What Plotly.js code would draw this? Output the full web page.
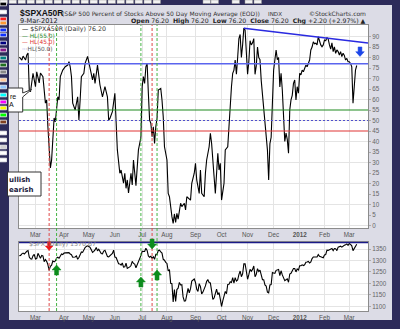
<!DOCTYPE html>
<html><head><meta charset="utf-8">
<script src="https://cdn.plot.ly/plotly-3.0.1.min.js"></script>
<style>html,body{margin:0;padding:0;background:#2d2b5a;overflow:hidden}#chart{width:400px;height:329px}</style>
</head><body><div id="chart"></div>
<script>
// ---------- data ----------
const a50Dates = ['2011-02-09','2011-02-11','2011-02-14','2011-02-16','2011-02-17','2011-02-18','2011-02-22','2011-02-23','2011-02-25','2011-03-01','2011-03-02','2011-03-04','2011-03-07','2011-03-09','2011-03-11','2011-03-14','2011-03-15','2011-03-16','2011-03-17','2011-03-18','2011-03-21','2011-03-22','2011-03-23','2011-03-24','2011-03-25','2011-03-28','2011-03-29','2011-03-31','2011-04-04','2011-04-06','2011-04-07','2011-04-08','2011-04-11','2011-04-12','2011-04-14','2011-04-18','2011-04-19','2011-04-20','2011-04-21','2011-04-26','2011-04-27','2011-04-29','2011-05-02','2011-05-03','2011-05-05','2011-05-06','2011-05-09','2011-05-11','2011-05-12','2011-05-13','2011-05-17','2011-05-18','2011-05-19','2011-05-23','2011-05-24','2011-05-25','2011-05-27','2011-06-01','2011-06-02','2011-06-03','2011-06-07','2011-06-08','2011-06-10','2011-06-13','2011-06-14','2011-06-15','2011-06-16','2011-06-20','2011-06-21','2011-06-22','2011-06-24','2011-06-27','2011-06-28','2011-06-30','2011-07-01','2011-07-05','2011-07-06','2011-07-07','2011-07-08','2011-07-11','2011-07-12','2011-07-13','2011-07-14','2011-07-15','2011-07-18','2011-07-19','2011-07-20','2011-07-21','2011-07-25','2011-07-26','2011-07-27','2011-07-28','2011-08-01','2011-08-02','2011-08-03','2011-08-05','2011-08-08','2011-08-09','2011-08-10','2011-08-11','2011-08-12','2011-08-16','2011-08-17','2011-08-19','2011-08-22','2011-08-23','2011-08-26','2011-08-29','2011-08-31','2011-09-01','2011-09-02','2011-09-07','2011-09-08','2011-09-09','2011-09-13','2011-09-14','2011-09-15','2011-09-19','2011-09-20','2011-09-21','2011-09-22','2011-09-23','2011-09-26','2011-09-27','2011-09-28','2011-09-29','2011-09-30','2011-10-03','2011-10-05','2011-10-06','2011-10-10','2011-10-11','2011-10-12','2011-10-13','2011-10-14','2011-10-17','2011-10-18','2011-10-19','2011-10-20','2011-10-21','2011-10-24','2011-10-25','2011-10-26','2011-10-27','2011-10-28','2011-10-31','2011-11-01','2011-11-02','2011-11-03','2011-11-04','2011-11-07','2011-11-08','2011-11-09','2011-11-10','2011-11-11','2011-11-14','2011-11-15','2011-11-16','2011-11-17','2011-11-18','2011-11-21','2011-11-22','2011-11-23','2011-11-25','2011-11-28','2011-11-29','2011-11-30','2011-12-01','2011-12-02','2011-12-05','2011-12-06','2011-12-07','2011-12-08','2011-12-09','2011-12-12','2011-12-13','2011-12-14','2011-12-15','2011-12-16','2011-12-19','2011-12-20','2011-12-21','2011-12-22','2011-12-23','2011-12-27','2011-12-28','2011-12-29','2011-12-30','2012-01-03','2012-01-04','2012-01-05','2012-01-06','2012-01-09','2012-01-10','2012-01-11','2012-01-12','2012-01-13','2012-01-17','2012-01-18','2012-01-19','2012-01-20','2012-01-23','2012-01-24','2012-01-25','2012-01-26','2012-01-27','2012-01-30','2012-01-31','2012-02-01','2012-02-02','2012-02-03','2012-02-06','2012-02-07','2012-02-08','2012-02-09','2012-02-10','2012-02-13','2012-02-14','2012-02-15','2012-02-16','2012-02-17','2012-02-21','2012-02-22','2012-02-23','2012-02-24','2012-02-27','2012-02-28','2012-02-29','2012-03-01','2012-03-02','2012-03-05','2012-03-06','2012-03-07','2012-03-08','2012-03-09'];
const a50Values = [80.2,78.8,80.7,78.8,81.2,82.1,64.5,63.7,72.5,66.1,73.2,67.9,72.6,70.9,58.3,59.8,47,37.5,27.4,31.2,42.3,51.2,49.4,55,61.3,59.8,70.9,74,75.6,76.4,78,75.6,70.9,58.3,55,61.3,50.2,59.8,70.9,72.5,77.2,80.5,77.9,74,69.3,72.5,67.7,76.4,70.9,66.9,61.3,64.5,66.1,61.3,50.2,51,54.2,63,47,36,24.9,26.4,20.2,24.9,17.7,21.7,15.5,24.9,19.3,31.2,19,29,36,42,66.1,70.9,67.7,75.6,77.2,63,50.2,48.7,42.3,47,39.1,47,51,64.5,65.3,59.8,51.8,37.5,31.2,15.3,13.7,4.2,1.0,5.5,1.5,5.8,3,10.6,9,10.6,7.4,13.7,12.1,20.1,24.9,29.6,21.7,15.3,26.4,15.3,13.7,24.9,31.2,37.5,43.9,39.1,32.8,23.2,15.3,28,34.4,26.4,29.6,12.1,20.1,36,37.5,47,59.8,66.1,72.5,74,78.8,72,80,89,91,80,86,94,93,80,72,78,88,86,87,89,72,76,85,80,79,69,62,58,50,44,36,21.7,39,42,62,74,78.8,83.6,79,80,66,72.5,64.5,55,40,44,41,34.4,55,59.8,62,67.7,69.3,59.8,66.1,63,72.5,71.7,74,73.2,74.5,76.4,75.6,77,78.8,83.6,85,87.5,86.5,86.8,86,89.9,87.5,86,85.1,86,88.3,88,89.5,88.7,86,84,87,82.8,85.1,82,83.6,82.8,81.2,82.8,80.4,82,81,78.8,79.6,78,78,77.2,75.6,58.2,66.1,74.0,76.2];

const spxDates = ['2011-02-09','2011-02-10','2011-02-11','2011-02-14','2011-02-15','2011-02-16','2011-02-17','2011-02-18','2011-02-22','2011-02-23','2011-02-24','2011-02-25','2011-02-28','2011-03-01','2011-03-02','2011-03-03','2011-03-04','2011-03-07','2011-03-08','2011-03-09','2011-03-10','2011-03-11','2011-03-14','2011-03-15','2011-03-16','2011-03-17','2011-03-18','2011-03-21','2011-03-22','2011-03-23','2011-03-24','2011-03-25','2011-03-28','2011-03-29','2011-03-30','2011-03-31','2011-04-01','2011-04-04','2011-04-05','2011-04-06','2011-04-07','2011-04-08','2011-04-11','2011-04-12','2011-04-13','2011-04-14','2011-04-15','2011-04-18','2011-04-19','2011-04-20','2011-04-21','2011-04-25','2011-04-26','2011-04-27','2011-04-28','2011-04-29','2011-05-02','2011-05-03','2011-05-04','2011-05-05','2011-05-06','2011-05-09','2011-05-10','2011-05-11','2011-05-12','2011-05-13','2011-05-16','2011-05-17','2011-05-18','2011-05-19','2011-05-20','2011-05-23','2011-05-24','2011-05-25','2011-05-26','2011-05-27','2011-05-31','2011-06-01','2011-06-02','2011-06-03','2011-06-06','2011-06-07','2011-06-08','2011-06-09','2011-06-10','2011-06-13','2011-06-14','2011-06-15','2011-06-16','2011-06-17','2011-06-20','2011-06-21','2011-06-22','2011-06-23','2011-06-24','2011-06-27','2011-06-28','2011-06-29','2011-06-30','2011-07-01','2011-07-05','2011-07-06','2011-07-07','2011-07-08','2011-07-11','2011-07-12','2011-07-13','2011-07-14','2011-07-15','2011-07-18','2011-07-19','2011-07-20','2011-07-21','2011-07-22','2011-07-25','2011-07-26','2011-07-27','2011-07-28','2011-07-29','2011-08-01','2011-08-02','2011-08-03','2011-08-04','2011-08-05','2011-08-08','2011-08-09','2011-08-10','2011-08-11','2011-08-12','2011-08-15','2011-08-16','2011-08-17','2011-08-18','2011-08-19','2011-08-22','2011-08-23','2011-08-24','2011-08-25','2011-08-26','2011-08-29','2011-08-30','2011-08-31','2011-09-01','2011-09-02','2011-09-06','2011-09-07','2011-09-08','2011-09-09','2011-09-12','2011-09-13','2011-09-14','2011-09-15','2011-09-16','2011-09-19','2011-09-20','2011-09-21','2011-09-22','2011-09-23','2011-09-26','2011-09-27','2011-09-28','2011-09-29','2011-09-30','2011-10-03','2011-10-04','2011-10-05','2011-10-06','2011-10-07','2011-10-10','2011-10-11','2011-10-12','2011-10-13','2011-10-14','2011-10-17','2011-10-18','2011-10-19','2011-10-20','2011-10-21','2011-10-24','2011-10-25','2011-10-26','2011-10-27','2011-10-28','2011-10-31','2011-11-01','2011-11-02','2011-11-03','2011-11-04','2011-11-07','2011-11-08','2011-11-09','2011-11-10','2011-11-11','2011-11-14','2011-11-15','2011-11-16','2011-11-17','2011-11-18','2011-11-21','2011-11-22','2011-11-23','2011-11-25','2011-11-28','2011-11-29','2011-11-30','2011-12-01','2011-12-02','2011-12-05','2011-12-06','2011-12-07','2011-12-08','2011-12-09','2011-12-12','2011-12-13','2011-12-14','2011-12-15','2011-12-16','2011-12-19','2011-12-20','2011-12-21','2011-12-22','2011-12-23','2011-12-27','2011-12-28','2011-12-29','2011-12-30','2012-01-03','2012-01-04','2012-01-05','2012-01-06','2012-01-09','2012-01-10','2012-01-11','2012-01-12','2012-01-13','2012-01-17','2012-01-18','2012-01-19','2012-01-20','2012-01-23','2012-01-24','2012-01-25','2012-01-26','2012-01-27','2012-01-30','2012-01-31','2012-02-01','2012-02-02','2012-02-03','2012-02-06','2012-02-07','2012-02-08','2012-02-09','2012-02-10','2012-02-13','2012-02-14','2012-02-15','2012-02-16','2012-02-17','2012-02-21','2012-02-22','2012-02-23','2012-02-24','2012-02-27','2012-02-28','2012-02-29','2012-03-01','2012-03-02','2012-03-05','2012-03-06','2012-03-07','2012-03-08','2012-03-09'];
const spxValues = [1321,1322,1329,1332,1328,1336,1340,1343,1315,1307,1306,1320,1327,1306,1308,1331,1321,1310,1322,1320,1295,1304,1296,1282,1257,1274,1279,1298,1294,1298,1310,1314,1310,1319,1328,1326,1332,1333,1333,1336,1334,1328,1325,1314,1314,1315,1320,1305,1313,1330,1337,1335,1347,1356,1361,1364,1361,1357,1347,1335,1340,1346,1357,1342,1349,1338,1330,1329,1341,1344,1333,1317,1316,1321,1326,1331,1345,1315,1313,1300,1286,1285,1280,1289,1271,1272,1288,1265,1268,1272,1278,1296,1287,1284,1268,1280,1297,1308,1321,1340,1338,1339,1353,1344,1320,1314,1318,1309,1316,1305,1327,1326,1344,1345,1337,1332,1305,1301,1292,1287,1254,1260,1200,1199,1119,1173,1121,1173,1179,1204,1193,1194,1141,1123,1124,1162,1178,1159,1177,1210,1213,1219,1204,1174,1165,1199,1186,1154,1162,1173,1189,1209,1216,1204,1202,1167,1130,1136,1163,1175,1151,1160,1131,1099,1124,1144,1165,1155,1195,1196,1207,1204,1225,1201,1225,1210,1215,1238,1254,1229,1242,1285,1285,1253,1218,1238,1261,1253,1261,1276,1229,1240,1264,1252,1258,1237,1216,1216,1193,1188,1162,1159,1193,1195,1247,1245,1244,1257,1259,1261,1234,1255,1237,1226,1212,1216,1220,1205,1241,1244,1254,1265,1265,1250,1263,1258,1277,1277,1281,1278,1281,1292,1293,1296,1289,1294,1308,1315,1315,1316,1315,1326,1318,1316,1313,1312,1324,1326,1345,1344,1347,1350,1352,1343,1352,1351,1343,1358,1361,1362,1358,1364,1366,1368,1372,1366,1374,1370,1364,1343,1353,1366,1371];

const hlLevels = [55, 45, 50];                 // HL(55.0), HL(45.0), HL(50.0)
const a50Ticks = [0,5,10,15,20,25,30,35,40,45,50,55,60,65,70,75,80,85,90];
const a50Grid = [0,10,20,30,40,50,60,70,80,90];
const spxTicks = [1100,1150,1200,1250,1300,1350];
const monthTicks = ['2011-03-01','2011-04-01','2011-05-02','2011-06-01','2011-07-01','2011-08-01','2011-09-01','2011-10-03','2011-11-01','2011-12-01','2012-01-03','2012-02-01','2012-03-01'];
const monthLabels = ['Mar','Apr','May','Jun','Jul','Aug','Sep','Oct','Nov','Dec','<b>2012</b>','Feb','Mar'];
const holidays = ['2011-02-21','2011-04-22','2011-05-30','2011-07-04','2011-09-05','2011-11-24','2011-12-26','2012-01-02','2012-01-16','2012-02-20'];
const signalDates = ['2011-03-16','2011-03-24','2011-06-30','2011-07-14','2011-07-20'];
const signalKinds = ['sell','buy','buy','sell','buy'];
const resistA50 = 77;                          // blue horizontal line
const trendA50 = [['2011-10-27',93.9],['2012-03-22 02:00',86.9]];
const resistSPX = 1378;
const header = {sym:'$SPXA50R', name:'(S&P 500 Percent of Stocks Above 50 Day Moving Average (EOD))', exch:'INDX',
  date:'9-Mar-2012', open:'76.20', high:'76.20', low:'76.20', close:'76.20', chg:'+2.20 (+2.97%)', spx:'1370.87'};

// ---------- geometry helpers ----------
const W=400,H=329,ML=19,MR=32,MT=25,MB=18,PW=W-ML-MR,PH=H-MT-MB;
const fx=p=>(p-ML)/PW, fy=p=>(H-MB-p)/PH;
const xRange=['2011-02-08 17:00','2012-03-22 02:00'];
const FONT='DejaVu Sans', TFONT='Liberation Sans';

const xCommon={type:'date',range:xRange,rangebreaks:[{bounds:['sat','mon']},{values:holidays}],
  tickmode:'array',tickvals:monthTicks,ticktext:monthLabels,showgrid:true,gridcolor:'#e4e4e4',
  showline:true,linecolor:'#8c8c8c',mirror:true,ticks:'',zeroline:false,
  tickfont:{family:TFONT,size:6.3,color:'#555'}};

const traces=[
 {x:a50Dates,y:a50Values,type:'scatter',mode:'lines',xaxis:'x',yaxis:'y',line:{color:'#000',width:1.1},hoverinfo:'skip'},
 {x:spxDates,y:spxValues,type:'scatter',mode:'lines',xaxis:'x2',yaxis:'y2',line:{color:'#000',width:1.1},hoverinfo:'skip'},
 {x:[xRange[0]],y:[null],type:'scatter',mode:'lines',xaxis:'x',yaxis:'y3',hoverinfo:'skip'}
];

const shapes=[];
const rectPx=(x0,y0,x1,y1,fill,line,layer)=>({type:'rect',xref:'paper',yref:'paper',x0:fx(x0),x1:fx(x1),y0:fy(y1),y1:fy(y0),fillcolor:fill,line:line||{width:0},layer:layer||'below'});
shapes.push(rectPx(9,5,392,320,'#dcdce6'));
shapes.push(rectPx(19,25,368,228,'#ffffff'));
shapes.push(rectPx(19,241.5,368,311,'#ffffff'));
// toolbar buttons along the top
[0,9,18,27,36,45,54,63,72,81,90,99,108,117,126,135,144,153,203,211,232,245,254].forEach(x=>shapes.push(rectPx(x,0,x+7.5,3.5,'#f2f2f2',{width:0.5,color:'#999'},'above')));
// colour swatches on the left
[[4,'#000000'],[12,'#ffffff'],[19,'#ff2020'],[23,'#ff9933'],[30,'#1030ff'],[35,'#1030ff'],[43,'#000080'],[50,'#8a1a8a'],[58,'#008080'],[65,'#207020'],[72,'#888888'],[80,'#ffc89a'],[87,'#90c8ff'],[95,'#00ffff'],[102,'#ff00ff'],[108,'#ffff00'],[115,'#00ff00'],[122,'#804020'],[133,'#ffffff'],[140,'#ffffff'],[147,'#d0d0d0'],[153,'#ffffff'],[160,'#ffffff']]
 .forEach(([y,c])=>shapes.push(rectPx(0,y-1.8,6.5,y+1.8,c,{width:0.8,color:'#f4f4f4'},'above')));

// HL lines
const hlStyles=[{color:'#1f8a1f',dash:'solid'},{color:'#e03434',dash:'solid'},{color:'#5050cc',dash:'2px,2px'}];
hlLevels.forEach((v,i)=>shapes.push({type:'line',xref:'paper',yref:'y',x0:0,x1:1,y0:v,y1:v,line:{color:hlStyles[i].color,width:1.2,dash:hlStyles[i].dash}}));
shapes.push({type:'line',xref:'paper',yref:'y',x0:0,x1:1,y0:resistA50,y1:resistA50,line:{color:'#5a64ee',width:1.5}});
shapes.push({type:'line',xref:'x',yref:'y',x0:trendA50[0][0],y0:trendA50[0][1],x1:trendA50[1][0],y1:trendA50[1][1],line:{color:'#2a2ae0',width:1.6}});
shapes.push({type:'line',xref:'paper',yref:'y2',x0:0,x1:1,y0:resistSPX,y1:resistSPX,line:{color:'#1a1a88',width:1.5}});
// vertical signal lines
signalDates.forEach((d,i)=>shapes.push({type:'line',xref:'x',yref:'paper',x0:d,x1:d,y0:0,y1:1,
  line:{color:signalKinds[i]==='sell'?'#e04848':'#44b444',width:1,dash:'3px,2px'}}));
// block arrows
const arrowPath=(dir,s)=>{s=s||1;const a=n=>(n*s).toFixed(2);
  return dir==='down'
  ? `M ${a(-2)} ${a(5)} L ${a(2)} ${a(5)} L ${a(2)} 0 L ${a(4.5)} 0 L 0 ${a(-5)} L ${a(-4.5)} 0 L ${a(-2)} 0 Z`
  : `M ${a(-2)} ${a(-5)} L ${a(2)} ${a(-5)} L ${a(2)} 0 L ${a(4.5)} 0 L 0 ${a(5)} L ${a(-4.5)} 0 L ${a(-2)} 0 Z`;};
const arrows=[[0,'down','#ee1616',246,0.85],[1,'up','#0c8c1c',270,1],[2,'up','#0c8c1c',282,1],[3,'down','#0c8c1c',244,1],[4,'up','#0c8c1c',275,1]];
arrows.forEach(([i,dir,col,py,s])=>shapes.push({type:'path',xref:'x',xsizemode:'pixel',xanchor:signalDates[i],
  yref:'paper',ysizemode:'pixel',yanchor:fy(py),path:arrowPath(dir,s),fillcolor:col,line:{color:col,width:0.5}}));
shapes.push({type:'path',xref:'paper',xsizemode:'pixel',xanchor:fx(360),yref:'paper',ysizemode:'pixel',yanchor:fy(51.7),
  path:arrowPath('down',0.95),fillcolor:'#1c46e8',line:{color:'#1c46e8',width:0.5}});
// callout boxes
const P=(x,y)=>`${fx(x).toFixed(5)} ${fy(y).toFixed(5)}`;
shapes.push({type:'path',xref:'paper',yref:'paper',path:`M ${P(8,88)} L ${P(22.7,88)} L ${P(22.7,93)} L ${P(31.5,89.5)} L ${P(22.7,97)} L ${P(22.7,112)} L ${P(8,112)} Z`,
  fillcolor:'#ffffff',line:{color:'#333',width:1}});
shapes.push(rectPx(7.5,172,41,196,'#ffffff',{color:'#333',width:1},'above'));

const ann=(px,py,text,size,color,anchor,family)=>({xref:'paper',yref:'paper',x:fx(px),y:fy(py),text:text,showarrow:false,
  xanchor:anchor||'left',yanchor:'middle',borderpad:0,font:{family:family||FONT,size:size,color:color||'#222'}});
const annotations=[
 ann(18.5,13,'<b>'+header.sym+'</b>',8.5,'#111','left',TFONT),
 ann(61,13.5,header.name,6,'#333'),
 ann(267,13.5,header.exch,5.6,'#333'),
 ann(367,13.5,'©StockCharts.com',6,'#333','right'),
 ann(18.5,20.8,header.date,6.6,'#222'),
 ann(367,20.8,`<b>Open</b> ${header.open}  <b>High</b> ${header.high}  <b>Low</b> ${header.low}  <b>Close</b> ${header.close}  <b>Chg</b> ${header.chg} ▲`,6.2,'#222','right'),
 ann(21,29.2,`<span style="color:#000">—</span> ${header.sym} (Daily) ${header.close}`,6.3,'#333'),
 ann(21,35.8,`— HL(${hlLevels[0].toFixed(1)})`,5.8,'#1f8a1f'),
 ann(21,42.5,`— HL(${hlLevels[1].toFixed(1)})`,5.8,'#e03434'),
 ann(21,49.2,`<span style="color:#5050cc">···</span><span style="color:#555">HL(${hlLevels[2].toFixed(1)})</span>`,5.8,'#555'),
 ann(28,243.6,`$SPX (Daily) ${header.spx}`,6.3,'#888'),
 ann(8.5,96.5,'re',7,'#111','left',TFONT),
 ann(8.2,105,'A',7,'#111','left',TFONT),
 ann(8.3,179.5,'<b>ullish</b>',7,'#1a1a40'),
 ann(8.3,189.5,'<b>earish</b>',7,'#1a1a40')
];

const layout={width:W,height:H,margin:{l:ML,r:MR,t:MT,b:MB,pad:0},paper_bgcolor:'#2d2b5a',plot_bgcolor:'#ffffff',
 showlegend:false,font:{family:FONT,size:7,color:'#333'},
 xaxis:Object.assign({},xCommon,{anchor:'y',domain:[0,1]}),
 xaxis2:Object.assign({},xCommon,{anchor:'y2',domain:[0,1],matches:'x'}),
 yaxis:{domain:[fy(228),1],range:[-1.19,95.48],side:'right',tickmode:'array',tickvals:a50Grid,showticklabels:false,
   showgrid:true,gridcolor:'#e4e4e4',showline:true,linecolor:'#8c8c8c',mirror:true,zeroline:false,ticks:''},
 yaxis3:{overlaying:'y',anchor:'x',side:'right',range:[-1.19,95.48],tickmode:'array',tickvals:a50Ticks,showgrid:false,
   zeroline:false,ticks:'outside',ticklen:2,tickcolor:'#aaa',tickfont:{family:TFONT,size:6.3,color:'#666'},showline:false},
 yaxis2:{domain:[0,fy(241.5)],range:[1079.5,1382.7],side:'right',tickmode:'array',tickvals:spxTicks,showgrid:true,
   gridcolor:'#e4e4e4',showline:true,linecolor:'#8c8c8c',mirror:true,zeroline:false,ticks:'outside',ticklen:2,tickcolor:'#aaa',
   tickfont:{family:TFONT,size:6.3,color:'#666'}},
 shapes:shapes,annotations:annotations};

Plotly.newPlot('chart',traces,layout,{staticPlot:true,displayModeBar:false});
</script></body></html>
